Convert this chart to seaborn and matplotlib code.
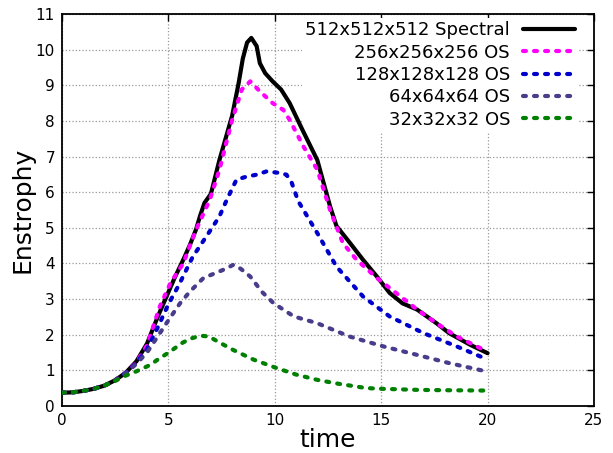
import matplotlib
matplotlib.use("Agg")
import matplotlib.pyplot as plt
import seaborn as sns
import numpy as np
import pandas as pd

# ---- data ----
t_spec = [0, 0.5, 1, 1.5, 2, 2.5, 3, 3.5, 4, 4.5, 4.9, 5.3, 5.7, 6.0, 6.3, 6.5, 6.7, 7.0, 7.4, 8.0, 8.3,
          8.5, 8.7, 8.9, 9.15, 9.3, 9.55, 9.9, 10.3, 10.7, 11.3, 12.0, 12.6, 12.9, 13.5, 14.15, 14.8,
          15.4, 16.0, 16.7, 17.6, 18.2, 19.2, 20.0]
e_spec = [0.37, 0.38, 0.42, 0.48, 0.57, 0.72, 0.93, 1.25, 1.75, 2.5, 3.05, 3.6, 4.1, 4.5, 4.95, 5.35,
          5.7, 5.95, 6.9, 8.15, 9.05, 9.75, 10.2, 10.33, 10.1, 9.62, 9.34, 9.11, 8.88, 8.5, 7.75, 6.9,
          5.6, 5.05, 4.6, 4.1, 3.63, 3.17, 2.88, 2.7, 2.32, 2.04, 1.71, 1.48]

t_256 = [0, 0.5, 1, 1.5, 2, 2.5, 3, 3.5, 4, 4.6, 5.1, 5.7, 6.3, 6.95, 7.4, 8.0, 8.45, 8.85, 9.3, 9.9,
         10.4, 10.7, 11.35, 12.0, 12.6, 13.2, 13.85, 14.8, 15.7, 16.7, 17.6, 18.55, 20.0]
e_256 = [0.37, 0.38, 0.42, 0.48, 0.57, 0.72, 0.93, 1.22, 1.7, 2.79, 3.45, 4.0, 4.94, 5.79, 6.63, 8.03,
         8.88, 9.11, 8.83, 8.5, 8.31, 8.03, 7.28, 6.63, 5.5, 4.57, 4.1, 3.59, 3.17, 2.7, 2.32, 1.95, 1.52]

t_128 = [0, 0.5, 1, 1.5, 2, 2.5, 3, 3.5, 4, 4.5, 5.0, 5.5, 6.15, 6.5, 7.1, 7.4, 7.75, 8.2, 8.7, 9.15,
         9.6, 10.25, 10.55, 10.8, 11.1, 12.0, 12.9, 14.15, 15.4, 17.0, 18.55, 20.0]
e_128 = [0.37, 0.38, 0.42, 0.48, 0.57, 0.72, 0.93, 1.2, 1.6, 2.2, 2.85, 3.4, 4.19, 4.5, 5.04, 5.32,
         5.79, 6.35, 6.44, 6.49, 6.58, 6.54, 6.49, 6.26, 5.75, 4.85, 3.91, 3.07, 2.51, 2.04, 1.67, 1.3]

t_64 = [0, 0.5, 1, 1.5, 2, 2.5, 3, 3.5, 4, 4.6, 5.0, 5.55, 6.0, 6.65, 7.3, 7.7, 8.05, 8.4, 8.85, 9.4,
        9.95, 10.9, 12.0, 13.5, 15.1, 16.7, 18.2, 20.0]
e_64 = [0.37, 0.38, 0.42, 0.48, 0.57, 0.72, 0.92, 1.18, 1.5, 2.04, 2.4, 2.88, 3.2, 3.59, 3.75, 3.85,
        3.96, 3.85, 3.63, 3.2, 2.88, 2.51, 2.32, 1.95, 1.67, 1.43, 1.2, 0.96]

t_32 = [0, 0.5, 1, 1.5, 2, 2.5, 3, 3.5, 4.15, 4.5, 5.1, 5.6, 6.0, 6.5, 6.9, 7.4, 8.05, 9.0, 10.1, 11.0,
        12.0, 13.0, 14.3, 15.0, 16.7, 18.0, 20.0]
e_32 = [0.37, 0.38, 0.42, 0.48, 0.57, 0.7, 0.85, 0.97, 1.15, 1.3, 1.53, 1.75, 1.88, 1.97, 1.95, 1.78,
        1.57, 1.3, 1.06, 0.88, 0.73, 0.62, 0.5, 0.48, 0.45, 0.44, 0.43]

labels = ["512x512x512 Spectral", "256x256x256 OS", "128x128x128 OS", "64x64x64 OS", "32x32x32 OS"]
x_ticks = [0, 5, 10, 15, 20, 25]
y_ticks = list(range(0, 12))

dash = (0, (0.7, 1.95))
series = [
    (t_spec, e_spec, labels[0], "black", "-"),
    (t_256, e_256, labels[1], "#ff00ff", dash),
    (t_128, e_128, labels[2], "#0000cd", dash),
    (t_64, e_64, labels[3], "#483d8b", dash),
    (t_32, e_32, labels[4], "#008000", dash),
]

sns.set_style("white")
plt.rcParams["font.family"] = ["DejaVu Sans"]
plt.rcParams.update({"text.color": "black", "axes.labelcolor": "black",
                     "xtick.color": "black", "ytick.color": "black"})

fig = plt.figure(figsize=(6.13, 4.53), dpi=100)
ax = fig.add_axes([0.101, 0.104, 0.868, 0.865])

for tt, ee, lab, col, ls in series:
    df = pd.DataFrame({"time": tt, "Enstrophy": ee})
    sns.lineplot(data=df, x="time", y="Enstrophy", ax=ax, color=col, linestyle=ls,
                 linewidth=3, label=lab, sort=False, dash_capstyle="round",
                 solid_joinstyle="round", zorder=3)

ax.set_xlim(0, 25)
ax.set_ylim(0, 11)
ax.set_xticks(x_ticks)
ax.set_yticks(y_ticks)
ax.tick_params(direction="in", top=True, right=True, length=5, width=1,
               labelsize=11, colors="black", pad=5)
ax.grid(True, color="#999999", linestyle=":", linewidth=0.9)
ax.set_axisbelow(True)
for s in ax.spines.values():
    s.set_color("black")
    s.set_linewidth(1.3)
ax.set_xlabel("time", fontsize=18, labelpad=0, color="black")
ax.set_ylabel("Enstrophy", fontsize=18, labelpad=1, color="black")

leg = ax.legend(loc="upper right", markerfirst=False, fontsize=13, frameon=True,
                framealpha=1, edgecolor="white", fancybox=False, handlelength=2.9,
                handletextpad=0.7, labelspacing=0.24, borderaxespad=0.2, borderpad=0.2,
                bbox_to_anchor=(0.978, 1.0))
leg.get_frame().set_linewidth(0)
leg.set_zorder(2)
for txt in leg.get_texts():
    txt.set_color("black")

fig.savefig("out.png", dpi=100)
